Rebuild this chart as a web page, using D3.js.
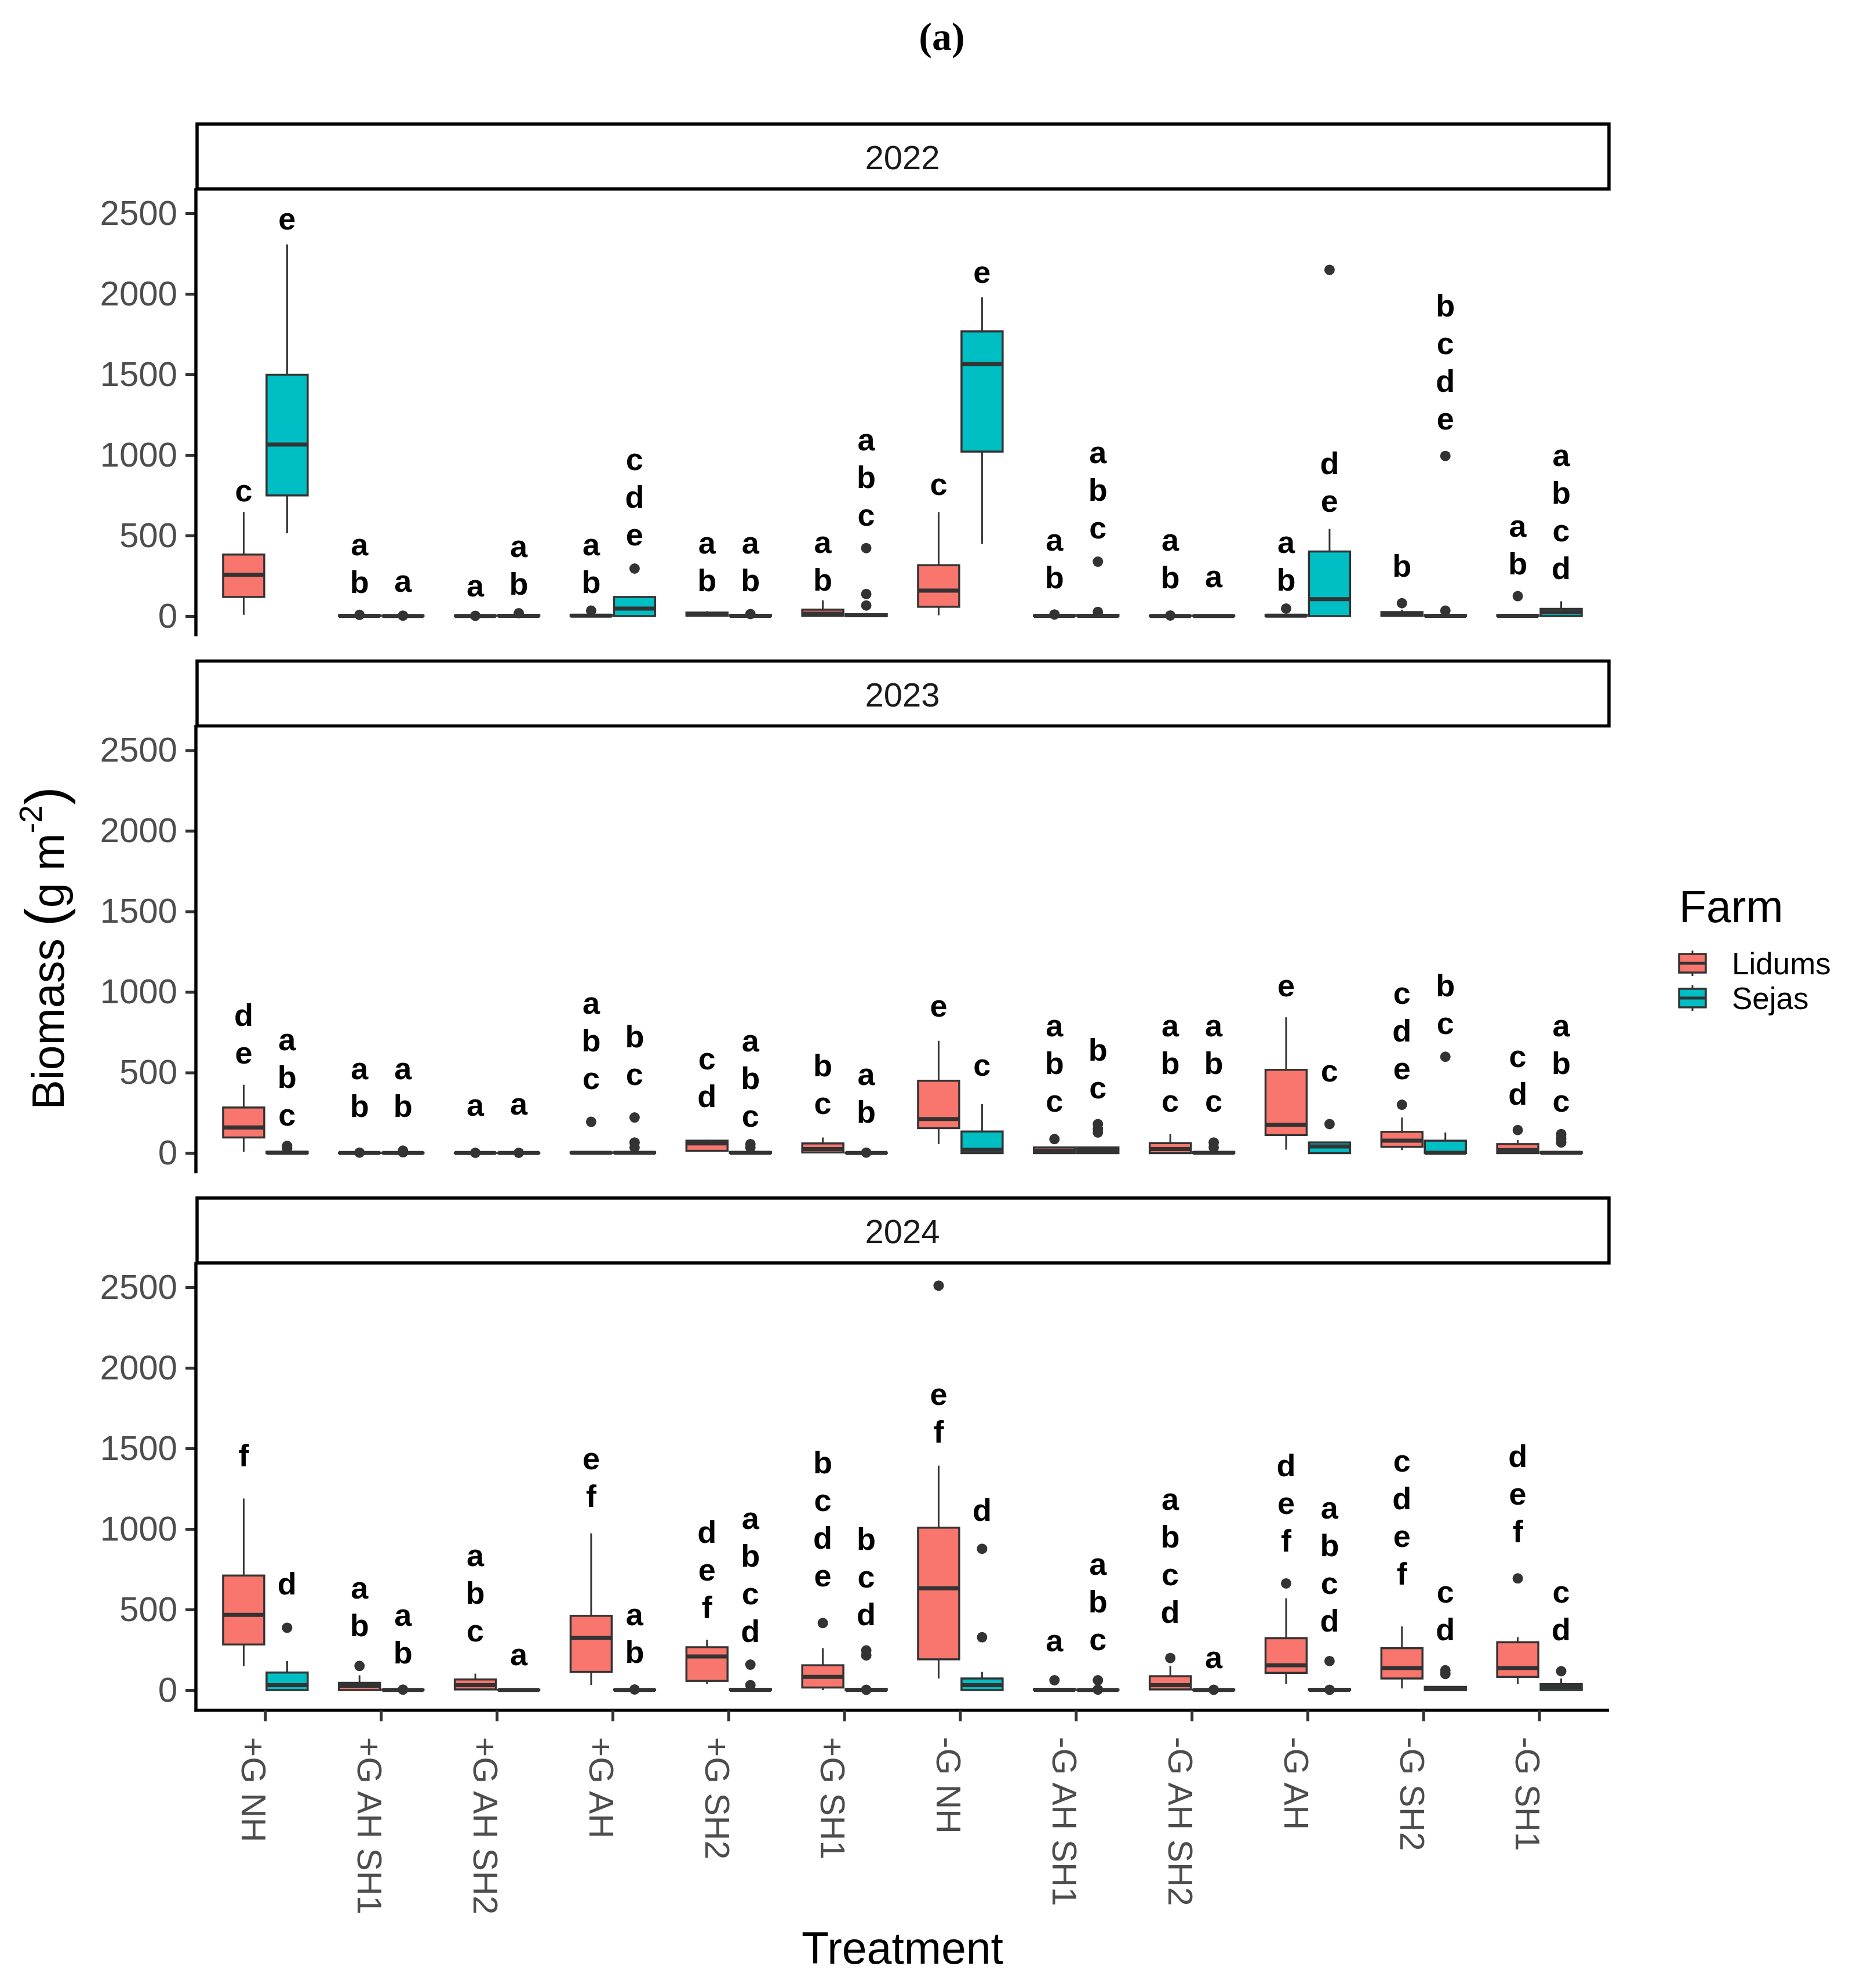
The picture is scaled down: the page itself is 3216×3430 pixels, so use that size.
<!DOCTYPE html>
<html>
<head>
<meta charset="utf-8">
<script src="https://cdn.jsdelivr.net/npm/d3@7"></script>
<style>
html,body{margin:0;padding:0;background:#fff;}
svg{display:block;}
</style>
</head>
<body>
<div id="chart"></div>
<script>
// ---------------- DATA ----------------
const treatments = ["+G NH","+G AH SH1","+G AH SH2","+G AH","+G SH2","+G SH1","-G NH","-G AH SH1","-G AH SH2","-G AH","-G SH2","-G SH1"];
const farms = ["Lidums","Sejas"];
const years = ["2022","2023","2024"];
const yTicks = [0,500,1000,1500,2000,2500];

// box stats: [lower whisker, q1, median, q3, upper whisker]
const stats2022Lidums = [[8,119,256,382,646],[0,0,2,5,8],[0,0,1,3,5],[0,0,3,8,15],[0,3,10,22,30],[0,2,15,40,98],[5,58,158,316,646],[0,0,2,5,8],[0,0,1,3,5],[0,0,3,8,15],[0,2,10,25,40],[0,0,2,6,12]];
const stats2022Sejas = [[514,749,1065,1498,2307],[0,0,1,3,5],[0,0,2,6,10],[0,0,47,119,125],[0,0,2,6,10],[0,0,5,12,20],[448,1021,1564,1767,1978],[0,0,2,8,12],[0,0,1,3,5],[0,0,105,401,541],[0,0,2,6,10],[0,0,24,45,92]];
const out2022Lidums = [[],[8],[2],[34],[],[],[],[10],[4],[47],[80],[124]];
const out2022Sejas = [[],[3],[18],[295],[13],[422,137,66],[],[338,26],[],[2149],[994,34],[]];
const letters2022Lidums = ["c","ab","a","ab","ab","ab","c","ab","ab","ab","b","ab"];
const letters2022Sejas = ["e","a","ab","cde","ab","abc","e","abc","a","de","bcde","abcd"];
const letterY2022Lidums = [712,145,124,145,153,158,752,171,171,158,245,258];
const letterY2022Sejas = [2400,150,132,440,153,562,2070,483,179,646,1160,232];

const stats2023Lidums = [[8,97,159,283,424],[0,0,1,3,5],[0,0,1,2,4],[0,0,2,5,10],[10,14,60,77,83],[0,4,25,60,97],[56,155,211,449,697],[0,0,14,35,40],[0,0,25,62,118],[21,112,176,517,843],[19,39,77,132,221],[0,0,19,56,81]];
const stats2023Sejas = [[0,0,2,8,15],[0,0,1,3,5],[0,0,1,2,4],[0,0,2,6,12],[0,0,2,6,12],[0,0,1,3,5],[0,0,21,134,304],[0,0,18,35,40],[0,0,2,6,12],[0,0,41,66,70],[0,0,2,77,128],[0,0,2,6,12]];
const out2023Lidums = [[],[3],[2],[194],[],[],[],[87],[],[],[300],[143]];
const out2023Sejas = [[45,30],[15,5],[2],[221,66,35],[56,35],[3],[],[180,149,128],[66,35],[180],[598],[118,90,66]];
const letters2023Lidums = ["de","ab","a","abc","cd","bc","e","abc","abc","e","cde","cd"];
const letters2023Sejas = ["abc","ab","a","bc","abc","ab","c","bc","abc","c","bc","abc"];
const letterY2023Lidums = [556,225,232,397,287,242,846,256,256,972,459,300];
const letterY2023Sejas = [170,225,238,424,165,190,480,339,256,445,738,256];

const stats2024Lidums = [[150,283,467,711,1189],[0,0,27,45,92],[4,4,31,66,102],[31,113,324,461,973],[37,57,209,266,313],[0,16,82,154,260],[72,191,631,1008,1393],[0,0,2,6,12],[0,4,31,86,150],[37,107,154,322,570],[10,72,137,260,395],[37,82,137,297,328]];
const stats2024Sejas = [[0,0,31,109,180],[0,0,1,3,5],[0,0,1,2,4],[0,0,1,3,5],[0,0,2,6,12],[0,0,2,6,12],[0,0,31,72,113],[0,0,1,3,5],[0,0,1,3,5],[0,0,2,6,12],[0,0,5,20,25],[0,0,20,37,72]];
const out2024Lidums = [[],[150],[],[],[],[416],[2510],[61],[199],[662],[],[693]];
const out2024Sejas = [[387],[3],[],[4],[158,31],[246,215,2],[877,328],[61,3],[2],[180,2],[123,100],[117]];
const letters2024Lidums = ["f","ab","abc","ef","def","bcde","ef","a","abcd","def","cdef","def"];
const letters2024Sejas = ["d","ab","a","ab","abcd","bcd","d","abc","a","abcd","cd","cd"];
const letterY2024Lidums = [1387,334,301,1137,445,645,1537,242,416,861,656,916];
const letterY2024Sejas = [594,164,154,170,297,404,1049,250,137,363,311,311];

const farmColors = ["#F8766D","#00BFC4"];

// assemble per-panel table from the arrays above
const panels = [
  {year: years[0], stats:[stats2022Lidums,stats2022Sejas], outs:[out2022Lidums,out2022Sejas], letters:[letters2022Lidums,letters2022Sejas], letterY:[letterY2022Lidums,letterY2022Sejas]},
  {year: years[1], stats:[stats2023Lidums,stats2023Sejas], outs:[out2023Lidums,out2023Sejas], letters:[letters2023Lidums,letters2023Sejas], letterY:[letterY2023Lidums,letterY2023Sejas]},
  {year: years[2], stats:[stats2024Lidums,stats2024Sejas], outs:[out2024Lidums,out2024Sejas], letters:[letters2024Lidums,letters2024Sejas], letterY:[letterY2024Lidums,letterY2024Sejas]}
];

// ---------------- LAYOUT ----------------
const W = 3216, H = 3430;
const left = 338, right = 2776;
const strip0 = 214, panelStep = 926.5, stripH = 112;
const FONT = "'Liberation Sans', Arial, Helvetica, sans-serif";

const svg = d3.select("#chart").append("svg")
  .attr("width", W).attr("height", H)
  .attr("viewBox", `0 0 ${W} ${H}`);
svg.append("rect").attr("width", W).attr("height", H).attr("fill", "#fff");

// title
svg.append("text").attr("x", 1625).attr("y", 86)
  .attr("text-anchor","middle")
  .attr("font-family","'Liberation Serif', 'Times New Roman', serif")
  .attr("font-weight","bold").attr("font-size",68).attr("fill","#000")
  .text("(a)");

// discrete x positions (ggplot-like: 0.6 expansion each side)
const x = d3.scalePoint().domain(treatments)
  .range([left + 0.6 * (right - left) / 12.2, right - 0.6 * (right - left) / 12.2]);
const unit = x.step();
const dodge = d3.scaleBand().domain(farms).range([-0.375*unit, 0.375*unit]).padding(0);
const boxW = dodge.bandwidth();

panels.forEach((p, pi) => {
  const sTop = strip0 + pi * panelStep;
  const y = d3.scaleLinear().domain([0, 2500]).range([sTop + 849, sTop + 154]);
  const plotTop = y(2635), plotBot = y(-125);

  const g = svg.append("g");

  // strip
  g.append("rect").attr("x", left + 2).attr("y", sTop)
    .attr("width", right - left - 2).attr("height", stripH)
    .attr("fill", "#fff").attr("stroke", "#000").attr("stroke-width", 5.5);
  g.append("text").attr("x", (left + right) / 2).attr("y", sTop + 78)
    .attr("text-anchor","middle").attr("font-family",FONT)
    .attr("font-size",58).attr("fill","#1A1A1A").text(p.year);

  // y axis
  const yAxis = d3.axisLeft(y).tickValues(yTicks).tickFormat(d3.format("d")).tickSize(18).tickPadding(14);
  const ya = g.append("g").attr("transform", `translate(${left},0)`).call(yAxis);
  ya.select(".domain").remove();
  ya.selectAll(".tick line").attr("stroke","#333").attr("stroke-width",5);
  ya.selectAll(".tick text").attr("font-family",FONT).attr("font-size",60).attr("fill","#4D4D4D");
  g.append("line").attr("x1", left).attr("x2", left).attr("y1", plotTop - 6).attr("y2", plotBot + (pi===2?2.5:0))
    .attr("stroke","#000").attr("stroke-width",5.5);

  // boxes
  farms.forEach((f, fi) => {
    treatments.forEach((t, ti) => {
      const [lo, q1, med, q3, hi] = p.stats[fi][ti];
      const cx = x(t) + dodge(f) + boxW / 2;
      const bg = g.append("g");
      bg.append("line").attr("x1",cx).attr("x2",cx).attr("y1",y(hi)).attr("y2",y(q3))
        .attr("stroke","#333").attr("stroke-width",3);
      bg.append("line").attr("x1",cx).attr("x2",cx).attr("y1",y(q1)).attr("y2",y(lo))
        .attr("stroke","#333").attr("stroke-width",3);
      bg.append("rect").attr("x", cx - boxW/2 + 2).attr("y", y(q3))
        .attr("width", boxW - 4).attr("height", Math.max(0, y(q1) - y(q3)))
        .attr("fill", farmColors[fi]).attr("stroke","#333").attr("stroke-width",3.5);
      bg.append("line").attr("x1", cx - boxW/2 + 2).attr("x2", cx + boxW/2 - 2)
        .attr("y1", y(med)).attr("y2", y(med))
        .attr("stroke","#333").attr("stroke-width",7);
      p.outs[fi][ti].forEach(v => {
        bg.append("circle").attr("cx",cx).attr("cy",y(v)).attr("r",9).attr("fill","#333");
      });
      // letters, stacked upward, last letter at base
      const letters = p.letters[fi][ti].split("");
      const base = y(p.letterY[fi][ti]);
      letters.forEach((L, li) => {
        bg.append("text").attr("x", cx).attr("y", base - (letters.length - 1 - li) * 65)
          .attr("text-anchor","middle").attr("font-family",FONT)
          .attr("font-weight","bold").attr("font-size",54).attr("fill","#000").text(L);
      });
    });
  });

  // bottom axis only on last panel
  if (pi === panels.length - 1) {
    g.append("line").attr("x1", left - 2.5).attr("x2", right).attr("y1", plotBot).attr("y2", plotBot)
      .attr("stroke","#000").attr("stroke-width",5.5);
    treatments.forEach(t => {
      const tx = x(t);
      g.append("line").attr("x1",tx).attr("x2",tx).attr("y1",plotBot).attr("y2",plotBot+19)
        .attr("stroke","#333").attr("stroke-width",5);
      g.append("text").attr("transform", `translate(${tx + 3},${plotBot + 46}) rotate(90)`)
        .attr("dy","0.74em").attr("text-anchor","start")
        .attr("font-family",FONT).attr("font-size",59).attr("fill","#4D4D4D").text(t);
    });
  }
});

// axis titles
svg.append("text").attr("x", 1557).attr("y", 3388).attr("text-anchor","middle")
  .attr("font-family",FONT).attr("font-size",77).attr("fill","#000").text("Treatment");

const yt = svg.append("text").attr("transform","translate(110,1636) rotate(-90)")
  .attr("text-anchor","middle").attr("font-family",FONT).attr("font-size",77).attr("fill","#000");
yt.append("tspan").text("Biomass ");
yt.append("tspan").attr("font-size",95).text("(");
yt.append("tspan").text("g m");
yt.append("tspan").attr("font-size",55).attr("dy",-38).text("-2");
yt.append("tspan").attr("font-size",95).attr("dy",38).text(")");

// legend
const lg = svg.append("g");
lg.append("text").attr("x",2897).attr("y",1591).attr("font-family",FONT).attr("font-size",77).attr("fill","#000").text("Farm");
farms.forEach((f, i) => {
  const cy = 1662 + i * 60;
  const kx = 2920;
  lg.append("line").attr("x1",kx).attr("x2",kx).attr("y1",cy-22).attr("y2",cy+22).attr("stroke","#333").attr("stroke-width",3);
  lg.append("rect").attr("x",kx-23).attr("y",cy-16).attr("width",46).attr("height",32)
    .attr("fill",farmColors[i]).attr("stroke","#333").attr("stroke-width",3.5);
  lg.append("line").attr("x1",kx-23).attr("x2",kx+23).attr("y1",cy).attr("y2",cy).attr("stroke","#333").attr("stroke-width",5);
  lg.append("text").attr("x",2988).attr("y",cy+19).attr("font-family",FONT).attr("font-size",53).attr("fill","#000").text(f);
});
</script>
</body>
</html>
